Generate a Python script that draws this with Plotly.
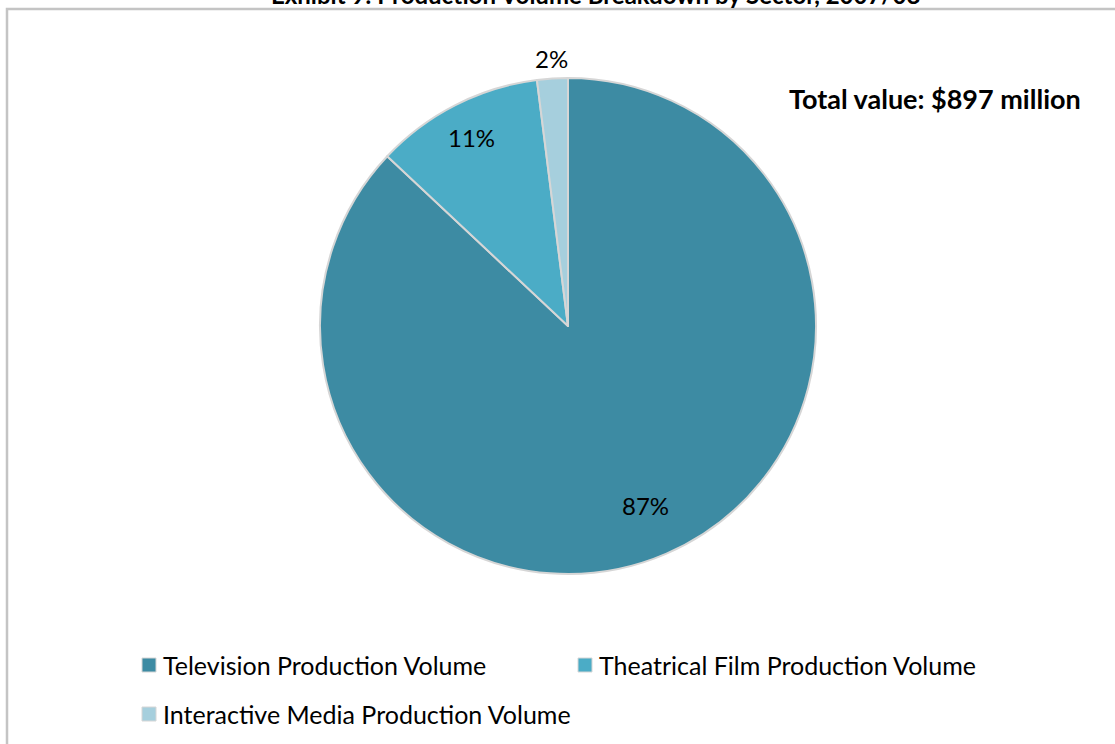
import math
import plotly.graph_objects as go

# Sector shares of production volume
sectors = [
    "Television Production Volume",
    "Theatrical Film Production Volume",
    "Interactive Media Production Volume",
]
shares = [87, 11, 2]
colors = ["#3d8ba3", "#4bacc6", "#a6cfdd"]
# radial placement of each percentage label, as a fraction of the pie radius
label_radius = [0.79, 0.855, 1.08]

title_text = "Exhibit 9: Production Volume Breakdown by Sector, 2007/08"
total_text = "Total value: $897 million"

W, H = 1115, 744
FONT = "Lato, Carlito, 'Open Sans', sans-serif"


def px_x(v):
    return v / W


def px_y(v):
    return 1 - v / H


# Pie placement (pixel box of the circle)
cx, cy, r = 568, 326, 248

fig = go.Figure()
fig.add_trace(
    go.Pie(
        labels=sectors,
        values=shares,
        sort=False,
        direction="clockwise",
        rotation=0,
        marker=dict(colors=colors, line=dict(color="#d6d6d6", width=2)),
        textinfo="none",
        showlegend=False,
        hoverinfo="label+percent",
        domain=dict(
            x=[px_x(cx - r), px_x(cx + r)],
            y=[px_y(cy + r), px_y(cy - r)],
        ),
    )
)

shapes = []
annotations = []

# Percentage labels at each slice's mid-angle (clockwise from 12 o'clock)
total = sum(shares)
cum = 0.0
for val, rf in zip(shares, label_radius):
    mid = (cum + val / 2) / total * 2 * math.pi
    cum += val
    lx = cx + rf * r * math.sin(mid)
    ly = cy - rf * r * math.cos(mid)
    annotations.append(
        dict(
            text=f"{round(val / total * 100)}%", xref="paper", yref="paper",
            x=px_x(lx), y=px_y(ly), xanchor="center", yanchor="middle",
            showarrow=False, font=dict(family=FONT, size=24, color="#000000"),
        )
    )

# Chart frame
shapes.append(
    dict(
        type="rect", xref="paper", yref="paper",
        x0=px_x(7), x1=px_x(W + 20), y0=px_y(H + 20), y1=px_y(9),
        line=dict(color="#c4c4c4", width=2.5), fillcolor="rgba(0,0,0,0)",
        layer="below",
    )
)

# Title sitting above the frame
annotations.append(
    dict(
        text="<b>" + title_text + "</b>", xref="paper", yref="paper",
        x=px_x(595), y=px_y(11), xanchor="center", yanchor="bottom",
        showarrow=False, font=dict(family=FONT, size=24, color="#000000"),
    )
)

# Total value note
annotations.append(
    dict(
        text="<b>" + total_text + "</b>", xref="paper", yref="paper",
        x=px_x(787), y=px_y(98), xanchor="left", yanchor="middle",
        showarrow=False, font=dict(family=FONT, size=27, color="#000000"),
    )
)

# Legend entries
legend_slots = [(142, 665), (578, 665), (142, 714)]
sq = 14
for name, col, (lx, ly) in zip(sectors, colors, legend_slots):
    shapes.append(
        dict(
            type="rect", xref="paper", yref="paper",
            x0=px_x(lx), x1=px_x(lx + sq), y0=px_y(ly + sq / 2), y1=px_y(ly - sq / 2),
            fillcolor=col, line=dict(color="#d6d6d6", width=1),
        )
    )
    annotations.append(
        dict(
            text=name, xref="paper", yref="paper",
            x=px_x(lx + sq + 5), y=px_y(ly), xanchor="left", yanchor="middle",
            showarrow=False, font=dict(family=FONT, size=25, color="#000000"),
        )
    )

fig.update_layout(
    width=W,
    height=H,
    margin=dict(l=0, r=0, t=0, b=0),
    paper_bgcolor="#ffffff",
    plot_bgcolor="#ffffff",
    shapes=shapes,
    annotations=annotations,
    showlegend=False,
)

fig.write_html("out.html")
